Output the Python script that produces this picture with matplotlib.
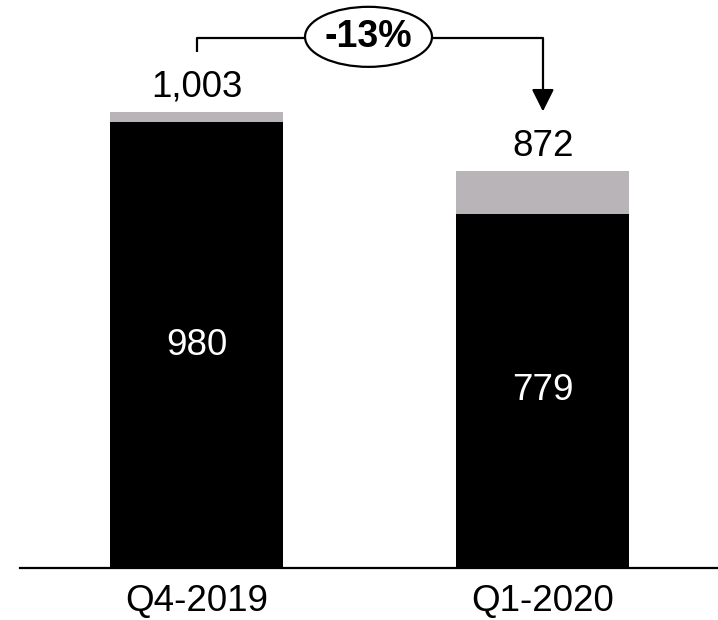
import matplotlib.pyplot as plt
from matplotlib.patches import Ellipse

quarters = ["Q4-2019", "Q1-2020"]
core = [980, 779]
other = [23, 93]
totals = [1003, 872]
change_label = "-13%"

plt.rcParams['font.family'] = ['Liberation Sans', 'DejaVu Sans']

fig = plt.figure(figsize=(7.18, 6.2), dpi=100)
ax = fig.add_axes([0, 0, 1, 1])

x = [0, 1]
ax.bar(x, core, width=0.5, color="black", zorder=2)
ax.bar(x, other, width=0.5, bottom=core, color="#b8b4b8", zorder=2)

ax.set_xlim(-0.569, 1.506)
ax.set_ylim(-114, 1249)
ax.axis("off")

# baseline
ax.axhline(0, xmin=20 / 718, xmax=1, color="black", lw=1.6, zorder=3)

for xi, q, c, t in zip(x, quarters, core, totals):
    ax.text(xi, c / 2, f"{c:,}", color="white", fontsize=26.5,
            ha="center", va="center")
    ax.text(xi, t + 55, f"{t:,}", color="black", fontsize=26.5,
            ha="center", va="center")
    ax.text(xi, -74, q, color="black", fontsize=26.5,
            ha="center", va="center")

# change bracket with arrow
top = 1166
ax.plot([x[0], x[0], x[1], x[1]],
        [totals[0] + 132, top, top, totals[1] + 175],
        color="black", lw=1.6, zorder=3, solid_capstyle="butt")
ax.annotate("", xy=(x[1], totals[1] + 132), xytext=(x[1], totals[1] + 180),
            arrowprops=dict(arrowstyle="-|>", color="black", lw=1.6,
                            mutation_scale=34, shrinkA=0, shrinkB=0),
            zorder=3)
mid = 0.496
ax.add_patch(Ellipse((mid, top + 2), 0.367, 132, facecolor="white",
                     edgecolor="black", lw=1.6, zorder=4))
ax.text(mid, top + 2, change_label, fontsize=27, fontweight="bold",
        ha="center", va="center", zorder=5)

fig.savefig("out.png", dpi=100)
